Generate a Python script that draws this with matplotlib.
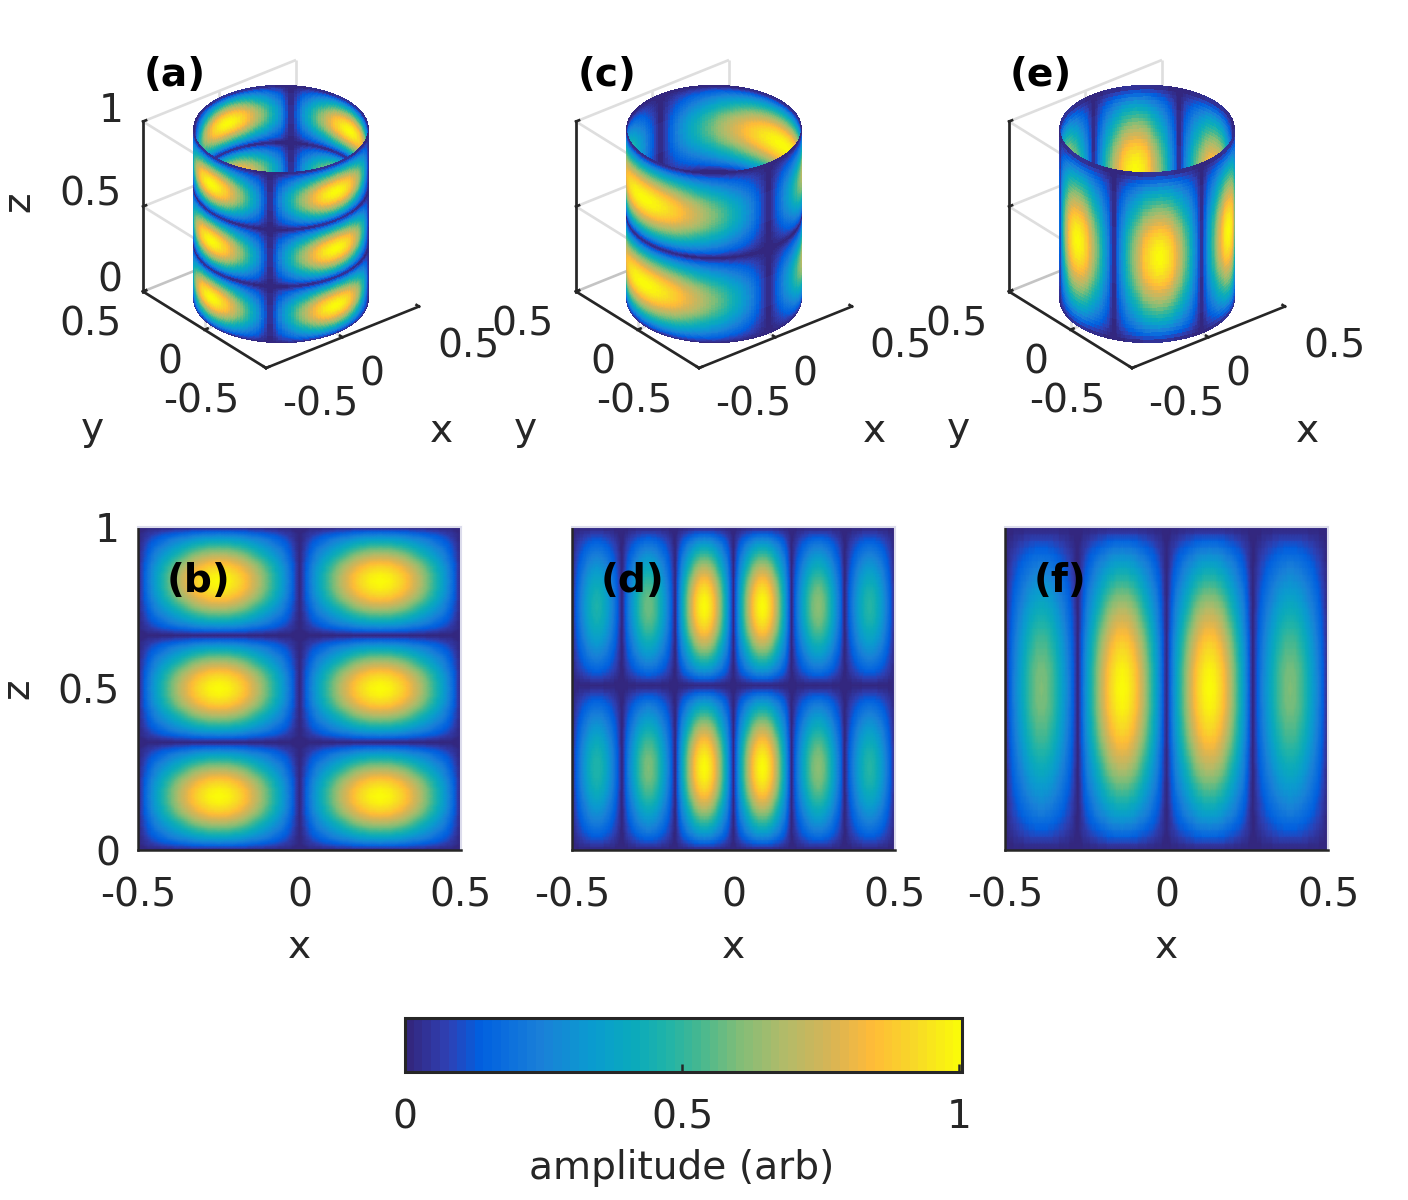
import numpy as np
import matplotlib as mpl
mpl.use('Agg')
import matplotlib.pyplot as plt
from matplotlib.colors import LinearSegmentedColormap, Normalize
from mpl_toolkits.mplot3d import proj3d

W, H = 1408, 1200
TXT = '#262626'
TICK_FS = 28.2
LABEL_FS = 28.2

# amplitude across half of one lobe
half_lobe = [0, .038, .075, .113, .15, .185, .22, .253, .285, .315,
             .345, .373, .4, .425, .45, .475, .5, .525, .55, .573,
             .595, .618, .64, .663, .685, .708, .73, .75, .77, .79,
             .81, .83, .85, .868, .885, .9, .915, .928, .94, .95,
             .96, .97, .98, .985, .99, .994, .997, .999, 1.0]
lobe = half_lobe + half_lobe[-2::-1]

# flat panels: node positions and peak of each lobe (first row = bottom)
b_x = [-.5, 0, .5]
b_z = [0, .334, .665, 1]
b_peaks = [[1, 1], [1, 1], [1, 1]]

d_x = [-.5, -.345, -.18, 0, .18, .345, .5]
d_z = [0, .51, 1]
d_peaks = [[.47, .6, 1, 1, .62, .48], [.46, .58, 1, 1, .62, .48]]

f_x = [-.5, -.274, 0, .267, .5]
f_z = [0, 1]
f_peaks = [[.6, 1, 1, .6]]

# cylinders: nodes as angle from the side facing the viewer (deg)
a_phi = [-97, -7, 83, 173, 263]
a_z = [0, .333, .667, 1]
a_peaks = [[1, 1, 1, 1], [1, 1, 1, 1], [1, 1, 1, 1]]

c_phi = [-142, 38, 218]
c_z = [0, .5, 1]
c_peaks = [[1, 1], [1, 1]]

e_phi = [-82, -22, 38, 98, 158, 218, 278]
e_z = [0, 1]
e_peaks = [[1, 1, 1, 1, 1, 1]]

# colour bar
cb_pos = [0, .07, .13, .24, .336, .41, .47, .53, .6, .68, .77, .845, .92, 1]
cb_col = ['#33277f', '#2f40b4', '#0060e0', '#1a80d8', '#0a9ccf', '#0aaabc', '#20b3a8', '#46b890',
          '#80bd78', '#b0bb6a', '#d8b455', '#ffbb38', '#f8d828', '#fafa0a']
parula = LinearSegmentedColormap.from_list('parula_ish', list(zip(cb_pos, cb_col)), N=64)
norm = Normalize(0, 1.005)

view_elev, view_azim = 30, -128.8
cyl_r = .445


def coords(nodes, step):
    n = len(lobe[::step]) - 1
    pts = [np.linspace(nodes[i], nodes[i + 1], n, endpoint=False) for i in range(len(nodes) - 1)]
    return np.append(np.concatenate(pts), nodes[-1])


def field(peaks, step):
    p = np.array(lobe[::step])
    rows = []
    for row in peaks:
        cols = [v * np.outer(p[:-1], p[:-1]) for v in row]
        rows.append(np.hstack(cols))
    out = np.vstack(rows)
    out = np.hstack([out, out[:, :1] * 0])
    return np.vstack([out, out[:1] * 0])


def flat_panel(left, nodes_x, nodes_z, peaks, first=False):
    ax = fig.add_axes([left / W, 1 - 850 / H, 323 / W, 323 / H])
    ax.pcolormesh(coords(nodes_x, 2), coords(nodes_z, 2), field(peaks, 2), cmap=parula, norm=norm,
                  shading='gouraud')
    ax.set_xlim(-.5, .5)
    ax.set_ylim(0, 1)
    ax.set_xticks([-.5, 0, .5])
    ax.set_xticklabels(['-0.5', '0', '0.5'])
    if first:
        ax.set_yticks([0, .5, 1])
        ax.set_yticklabels(['0', '0.5', '1'])
        ax.set_ylabel('z', fontsize=LABEL_FS, color=TXT, labelpad=15)
    else:
        ax.set_yticks([])
    ax.tick_params(labelsize=TICK_FS, length=0, labelcolor=TXT, pad=19)
    ax.tick_params(axis='y', pad=13)
    ax.set_xlabel('x', fontsize=LABEL_FS, color=TXT, labelpad=10)
    for s in ['left', 'bottom']:
        ax.spines[s].set_color(TXT)
        ax.spines[s].set_linewidth(1.8)
    for s in ['right', 'top']:
        ax.spines[s].set_color('#dcdcec')
        ax.spines[s].set_linewidth(1.5)
    return ax


def corner_px(ax, x, y, z):
    a, b, _ = proj3d.proj_transform(x, y, z, ax.get_proj())
    return ax.transData.transform((a, b))


def cyl_panel(dx, phi_nodes, nodes_z, peaks, step):
    side = 440
    ax = fig.add_axes([(281 + dx - side / 2) / W, 1 - (200 + side / 2) / H, side / W, side / H],
                      projection='3d', proj_type='ortho', computed_zorder=False)
    ax.view_init(view_elev, view_azim)
    ax.set_xlim(-.5, .5)
    ax.set_ylim(-.5, .5)
    ax.set_zlim(0, 1)
    ax.set_axis_off()

    # size and place the box so its corners land where they are in the reference
    ax.set_box_aspect((1, 1, 1), zoom=1)
    ax.apply_aspect()
    wide = corner_px(ax, .5, -.5, 0)[0] - corner_px(ax, -.5, .5, 0)[0]
    ax.set_box_aspect((1, 1, 1), zoom=276 / wide)
    ax.apply_aspect()
    lft, rgt, bot = corner_px(ax, -.5, .5, 0), corner_px(ax, .5, -.5, 0), corner_px(ax, -.5, -.5, 0)
    shift_x = (281 + dx) - (lft[0] + rgt[0]) / 2
    shift_y = (H - 368) - bot[1]
    p = ax.get_position()
    ax.set_position([p.x0 + shift_x / W, p.y0 + shift_y / H, p.width, p.height])
    ax.apply_aspect()

    # back walls and floor
    grey = dict(color='#dedede', lw=1.9, zorder=1, solid_capstyle='butt')
    for z in [.5, 1]:
        ax.plot([-.5, -.5, .5], [-.5, .5, .5], [z, z, z], **grey)
    ax.plot([-.5, -.5, .5], [-.5, .5, .5], [0, 0, 0], color='#c4c4c4', lw=1.9, zorder=1)
    ax.plot([-.5, -.5], [.5, .5], [0, 1], color='#c4c4c4', lw=2.2, zorder=1)
    ax.plot([.5, .5], [.5, .5], [0, 1], **grey)
    ax.plot([-.5, -.5], [0, 0], [0, 1], **grey)
    ax.plot([0, 0], [.5, .5], [0, 1], **grey)
    ax.plot([0, 0], [-.5, .5], [0, 0], **grey)
    ax.plot([-.5, .5], [0, 0], [0, 0], **grey)

    # cylinder
    phi = np.radians(coords(phi_nodes, step))
    zz = coords(nodes_z, step)
    az = np.radians(view_azim)
    to_cam = np.array([np.cos(az), np.sin(az)])
    right = np.array([-np.sin(az), np.cos(az)])
    px = cyl_r * (np.sin(phi) * right[0] + np.cos(phi) * to_cam[0])
    py = cyl_r * (np.sin(phi) * right[1] + np.cos(phi) * to_cam[1])
    X = np.tile(px, (len(zz), 1))
    Y = np.tile(py, (len(zz), 1))
    Z = np.tile(zz, (len(phi), 1)).T
    vals = field(peaks, step)
    cell = (vals[:-1, :-1] + vals[1:, 1:] + vals[1:, :-1] + vals[:-1, 1:]) / 4
    ax.plot_surface(X, Y, Z, facecolors=parula(norm(cell)), rstride=1, cstride=1, shade=False,
                    antialiased=False, linewidth=0, zorder=2)

    # front axes
    dark = dict(color=TXT, lw=1.9, zorder=3)
    ax.plot([-.5, -.5], [.5, .5], [0, 1], **dark)
    ax.plot([-.5, .5], [-.5, -.5], [0, 0], **dark)
    ax.plot([-.5, -.5], [-.5, .5], [0, 0], **dark)
    for t in [-.5, 0, .5]:
        ax.plot([t, t], [-.5, -.48], [0, 0], **dark)
        ax.plot([-.5, -.48], [t, t], [0, 0], **dark)
    for t in [0, .5, 1]:
        ax.plot([-.5, -.48], [.5, .5], [t, t], **dark)
    return ax


def px_text(x, y, s, **kw):
    kw.setdefault('fontsize', TICK_FS)
    kw.setdefault('color', TXT)
    kw.setdefault('ha', 'center')
    kw.setdefault('va', 'center')
    fig.text(x / W, 1 - y / H, s, **kw)


fig = plt.figure(figsize=(W / 100, H / 100), dpi=100)

flat_panel(138, b_x, b_z, b_peaks, first=True)
flat_panel(572, d_x, d_z, d_peaks)
flat_panel(1005, f_x, f_z, f_peaks)

cyl_panel(0, a_phi, a_z, a_peaks, 2)
cyl_panel(433, c_phi, c_z, c_peaks, 1)
cyl_panel(866, e_phi, e_z, e_peaks, 2)

# labels of the 3-D boxes, panel (a) positions shifted across
for dx in [0, 433, 866]:
    px_text(90 + dx, 325, '0.5')
    px_text(170 + dx, 363, '0')
    px_text(201 + dx, 401, '-0.5')
    px_text(92 + dx, 429, 'y', fontsize=LABEL_FS)
    px_text(320 + dx, 405, '-0.5')
    px_text(372 + dx, 375, '0')
    px_text(468 + dx, 346, '0.5')
    px_text(441 + dx, 431, 'x', fontsize=LABEL_FS)
px_text(124, 111, '1', ha='right')
px_text(122, 195, '0.5', ha='right')
px_text(122, 281, '0', ha='right')
px_text(18, 202, 'z', fontsize=LABEL_FS, rotation=90)

panel_names = ['(a)', '(c)', '(e)', '(b)', '(d)', '(f)']
name_x = [175, 607, 1041, 199, 632, 1060]
name_y = [75, 75, 75, 581, 581, 581]
for s, x, y in zip(panel_names, name_x, name_y):
    px_text(x, y, s, color='black', fontweight='bold', zorder=10)

cax = fig.add_axes([405 / W, 1 - 1072 / H, 557 / W, 54 / H])
sm = mpl.cm.ScalarMappable(norm=norm, cmap=parula)
cb = fig.colorbar(sm, cax=cax, orientation='horizontal')
cb.set_ticks([0, .5, 1])
cb.set_ticklabels(['0', '0.5', '1'])
cb.ax.tick_params(labelsize=TICK_FS, length=6, width=1.8, direction='in', color=TXT, labelcolor=TXT, pad=19)
cb.outline.set_linewidth(2.2)
cb.outline.set_edgecolor(TXT)
px_text(682, 1168, 'amplitude (arb)', fontsize=LABEL_FS)

fig.savefig('out.png', dpi=100)
